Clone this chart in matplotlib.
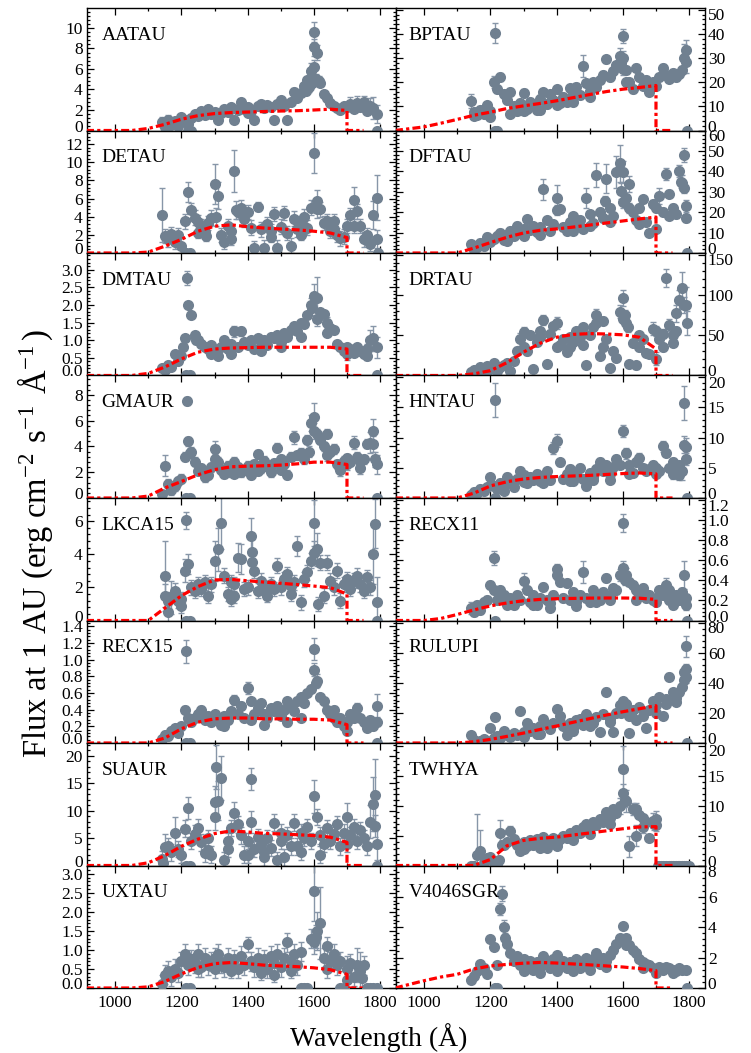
import numpy as np
import matplotlib
matplotlib.use("Agg")
import matplotlib.pyplot as plt
from matplotlib.ticker import FixedLocator, AutoMinorLocator, MultipleLocator, FormatStrFormatter
from matplotlib.transforms import ScaledTranslation

plt.rcParams['font.family'] = ['Liberation Serif', 'DejaVu Serif']
plt.rcParams['mathtext.fontset'] = 'custom'
plt.rcParams['mathtext.rm'] = 'Liberation Serif'
plt.rcParams['mathtext.it'] = 'Liberation Serif:italic'

nan = np.nan

# wavelength bins of the binned FUV spectra (Angstrom)
WAVE = [1140, 1150, 1160, 1170, 1180, 1190, 1200, 1210, 1220, 1230,
        1240, 1250, 1260, 1270, 1280, 1290, 1300, 1310, 1320, 1330,
        1340, 1350, 1360, 1370, 1380, 1390, 1400, 1410, 1420, 1430,
        1440, 1450, 1460, 1470, 1480, 1490, 1500, 1510, 1520, 1530,
        1540, 1550, 1560, 1570, 1580, 1590, 1600, 1610, 1620, 1630,
        1640, 1650, 1660, 1670, 1680, 1690, 1700, 1710, 1720, 1730,
        1740, 1750, 1760, 1770, 1780, 1790, 1800]

# wavelengths where the model continuum is tabulated
MODEL_WAVE = [912, 1000, 1050, 1100, 1150, 1200, 1250, 1300, 1350, 1400,
              1450, 1500, 1550, 1600, 1650, 1700, 1700, 1750]

# ---------------- AA Tau
AATAU_FLUX = [0.8, 0.3, 1.0, 0.5, 0.9, 0.4, 1.3, 1.0, 0.6, 1.2,
              1.6, 1.4, 1.9, 1.5, 2.1, 1.6, 1.8, 1.0, 1.7, 2.1,
              1.8, 2.3, 1.0, 2.0, 2.4, 2.1, 2.3, 1.9, 1.0, 2.4,
              2.6, 2.2, 2.5, 2.3, 1.0, 2.6, 3.0, 2.4, 1.0, 2.8,
              3.8, 3.2, 3.7, 4.3, 4.9, 5.8, 9.6, 7.6, 4.6, 3.6,
              3.2, 2.7, 2.4, 2.2, 2.0, 2.4, 2.3, 2.6, 2.1, 2.7,
              2.3, 2.8, 1.9, 2.4, 2.2, 1.6, nan]
AATAU_ERR = 0.3
AATAU_BIG = {1600: 1.0, 1610: 0.7, 1590: 0.8, 1710: 0.7, 1730: 0.7, 1750: 0.6,
             1770: 0.8, 1780: 1.1, 1790: 0.9, 1140: 0.5, 1160: 0.5}
AATAU_EXTRA = [(1600, 8.1, 0.8), (1600, 6.2, 0.7), (1605, 5.0, 0.5), (1595, 4.6, 0.4),
               (1585, 4.2, 0.4), (1575, 3.9, 0.4), (1615, 4.8, 0.5), (1380, 2.8, 0.3),
               (1400, 1.7, 0.3), (1220, 0, 0), (1230, 0, 0), (1790, 0, 0)]
AATAU_MODEL = [0, 0, 0, 0.2, 0.6, 1.1, 1.45, 1.65, 1.75, 1.8, 1.85, 1.9, 1.93, 2.0, 2.08, 1.95, 0, 0]

# ---------------- DE Tau
DETAU_FLUX = [4.2, 1.9, 1.5, 2.1, 1.2, 2.0, 0.8, 3.5, 6.7, 4.7,
              3.9, 3.4, 2.9, 2.3, 3.3, 3.9, 7.6, 6.3, 2.0, 1.2,
              3.0, 2.4, 9.0, 4.5, 5.0, 3.7, 4.5, 2.8, 0.5, 5.1,
              2.6, 0.6, 3.2, 2.4, 4.3, 0.6, 2.9, 4.4, 2.2, 0.8,
              3.8, 2.6, 3.3, 4.0, 2.8, 5.0, 11.0, 5.7, 4.8, 3.3,
              3.5, 2.4, 2.6, 2.0, 1.6, 1.8, 3.0, 4.2, 5.8, 4.6,
              3.0, 1.5, 2.0, 1.0, 4.2, 6.1, nan]
DETAU_ERR = 0.8
DETAU_BIG = {1140: 3.0, 1220: 1.1, 1300: 2.2, 1310: 1.5, 1360: 2.3, 1600: 2.2, 1610: 1.2,
             1720: 1.5, 1790: 2.5, 1780: 1.5, 1430: 0.5}
DETAU_EXTRA = [(1305, 4.0, 1.0), (1365, 4.7, 1.0), (1610, 4.9, 1.0), (1790, 1.5, 1.0),
               (1250, 2.2, 0.6), (1350, 1.5, 0.6), (1470, 1.8, 0.6), (1560, 2.0, 0.6),
               (1660, 3.5, 0.8), (1720, 3.0, 0.8), (1180, 1.7, 0.6), (1275, 1.9, 0.6),
               (1215, 0, 0), (1225, 0, 0), (1795, 0, 0)]
DETAU_MODEL = [0, 0, 0, 0.1, 0.75, 1.5, 2.4, 2.95, 3.1, 2.9, 2.75, 2.65, 2.55, 2.4, 2.2, 1.7, 0, 0]

# ---------------- DM Tau
DMTAU_FLUX = [0.2, 0.15, 0.3, 0.25, 0.6, 0.4, 0.55, 1.05, 2.0, 1.7,
              1.15, 1.0, 0.9, 0.8, 0.75, 0.85, 0.7, 0.55, 0.8, 1.0,
              0.75, 0.9, 1.25, 0.8, 1.25, 0.95, 0.85, 1.0, 0.75, 1.05,
              0.95, 1.0, 0.85, 1.1, 1.05, 1.15, 0.95, 1.2, 1.1, 1.3,
              1.4, 1.25, 1.5, 1.45, 1.7, 2.0, 2.25, 2.2, 1.8, 1.75,
              1.2, 1.35, 1.3, 0.9, 0.8, 0.7, 0.6, 0.75, 0.65, 0.8,
              0.7, 0.6, 0.75, 1.0, 1.05, 0.8, nan]
DMTAU_ERR = 0.08
DMTAU_BIG = {1600: 0.35, 1610: 0.6, 1590: 0.2, 1360: 0.15, 1380: 0.12, 1770: 0.3,
             1780: 0.35, 1790: 0.3, 1700: 0.15, 1760: 0.15}
DMTAU_EXTRA = [(1218, 2.75, 0.2), (1205, 0.8, 0.1), (1245, 1.0, 0.1), (1290, 0.6, 0.08),
               (1350, 0.6, 0.08), (1440, 0.7, 0.08), (1500, 0.8, 0.08), (1560, 1.1, 0.1),
               (1595, 1.9, 0.2), (1610, 1.6, 0.2), (1640, 1.5, 0.15), (1700, 0.8, 0.1),
               (1760, 0.55, 0.1), (1215, 0, 0), (1225, 0, 0), (1790, 0, 0)]
DMTAU_MODEL = [0, 0, 0, 0.06, 0.24, 0.47, 0.66, 0.75, 0.78, 0.79, 0.8, 0.8, 0.8, 0.8, 0.8, 0.75, 0, 0]

# ---------------- GM Aur
GMAUR_FLUX = [0.3, 2.5, 1.1, 0.6, 0.9, 1.3, 1.5, 3.2, 4.4, 3.6,
              2.8, 2.1, 2.3, 1.6, 1.8, 2.4, 3.8, 2.8, 2.2, 1.9,
              2.5, 2.0, 2.8, 2.4, 2.0, 2.2, 2.5, 1.8, 2.6, 3.4,
              2.3, 2.9, 2.5, 2.0, 2.7, 3.9, 3.0, 2.6, 1.8, 3.2,
              4.7, 3.3, 3.5, 3.0, 4.5, 5.8, 6.3, 5.0, 4.5, 4.0,
              5.0, 3.6, 3.8, 2.6, 2.2, 2.9, 3.1, 2.8, 4.3, 3.2,
              2.9, 3.0, 4.2, 4.3, 5.2, 2.6, nan]
GMAUR_ERR = 0.35
GMAUR_BIG = {1150: 0.8, 1300: 0.6, 1600: 1.1, 1590: 0.6, 1780: 0.9, 1790: 0.7, 1770: 0.8,
             1720: 0.5, 1680: 0.5, 1540: 0.5}
GMAUR_EXTRA = [(1218, 7.5, 0.3), (1225, 3.5, 0.4), (1300, 3.0, 0.4), (1360, 1.9, 0.3),
               (1430, 2.1, 0.3), (1500, 2.2, 0.3), (1600, 5.2, 0.6), (1585, 3.6, 0.4),
               (1640, 3.3, 0.4), (1780, 4.2, 0.6), (1785, 3.0, 0.6), (1700, 2.6, 0.4),
               (1740, 2.3, 0.4), (1215, 0, 0), (1225, 0, 0), (1790, 0, 0)]
GMAUR_MODEL = [0, 0, 0, 0.15, 0.78, 1.28, 1.8, 2.2, 2.42, 2.47, 2.5, 2.55, 2.65, 2.78, 2.78, 2.6, 0, 0]

# ---------------- LkCa 15
LKCA15_FLUX = [nan, 2.7, 0.5, 1.4, 1.8, 1.2, 0.9, 3.0, 3.4, 2.0,
               1.8, 2.2, 1.9, 2.3, 1.5, 2.2, 3.6, 4.3, 5.9, 2.7,
               1.6, 2.3, 1.5, 3.8, 3.7, 1.9, 2.0, 5.1, 3.0, 1.8,
               2.4, 2.0, 1.8, 2.2, 1.9, 3.3, 2.0, 2.5, 2.8, 2.1,
               2.3, 4.5, 1.1, 2.5, 2.9, 3.6, 5.9, 4.3, 3.5, 1.5,
               3.5, 2.4, 2.0, 3.0, 1.2, 2.2, 2.5, 1.9, 2.4, 2.7,
               2.2, 1.8, 2.6, 2.0, 4.0, 1.1, nan]
LKCA15_ERR = 0.45
LKCA15_BIG = {1150: 2.1, 1300: 1.2, 1310: 1.3, 1320: 1.6, 1370: 0.9, 1380: 0.9, 1410: 1.1,
              1550: 0.6, 1600: 1.4, 1610: 1.0, 1780: 1.8, 1790: 1.5, 1160: 0.8, 1170: 1.0,
              1210: 0.7, 1220: 0.6}
LKCA15_EXTRA = [(1215, 6.05, 0.5), (1150, 1.5, 0.7), (1412, 4.15, 0.8), (1414, 3.55, 0.6),
                (1600, 4.1, 0.7), (1785, 5.85, 1.5), (1160, 1.2, 0.5), (1200, 1.3, 0.4),
                (1350, 1.3, 0.4), (1460, 1.5, 0.4), (1530, 1.6, 0.4), (1612, 1.0, 0.4),
                (1360, 2.2, 0.4), (1215, 0, 0), (1225, 0, 0), (1790, 0, 0)]
LKCA15_MODEL = [0, 0, 0, 0, 0.75, 1.5, 2.05, 2.45, 2.48, 2.4, 2.32, 2.25, 2.17, 2.08, 1.98, 1.6, 0, 0]

# ---------------- RECX 15
RECX15_FLUX = [0.05, 0.1, 0.08, 0.15, 0.18, 0.12, 0.2, 0.4, 0.3, 0.25,
               0.3, 0.35, 0.4, 0.28, 0.32, 0.25, 0.35, 0.3, 0.22, 0.33,
               0.28, 0.38, 0.52, 0.35, 0.45, 0.3, 0.66, 0.5, 0.35, 0.42,
               0.48, 0.35, 0.3, 0.42, 0.38, 0.45, 0.33, 0.4, 0.5, 0.45,
               0.38, 0.5, 0.55, 0.48, 0.6, 0.65, 1.13, 0.75, 0.55, 0.5,
               0.4, 0.35, 0.3, 0.25, 0.3, 0.2, 0.25, 0.35, 0.3, 0.42,
               0.3, 0.25, 0.18, 0.28, 0.2, 0.45, nan]
RECX15_ERR = 0.04
RECX15_BIG = {1400: 0.07, 1600: 0.13, 1790: 0.14, 1360: 0.06, 1730: 0.06, 1610: 0.08}
RECX15_EXTRA = [(1215, 1.1, 0.14), (1600, 0.88, 0.08), (1605, 0.72, 0.06), (1410, 0.28, 0.04),
                (1330, 0.2, 0.04), (1450, 0.22, 0.04), (1520, 0.25, 0.04), (1560, 0.3, 0.04),
                (1660, 0.4, 0.04), (1700, 0.15, 0.04), (1790, 0.25, 0.05),
                (1215, 0, 0), (1225, 0, 0), (1790, 0, 0)]
RECX15_MODEL = [0, 0, 0, 0, 0.06, 0.17, 0.25, 0.29, 0.3, 0.3, 0.29, 0.29, 0.285, 0.285, 0.275, 0.22, 0, 0]

# ---------------- SU Aur
SUAUR_FLUX = [1.2, 3.3, 3.5, 2.4, 5.9, 3.0, 2.0, 6.7, 10.5, 4.5,
              5.8, 6.9, 4.2, 2.2, 5.0, 2.0, 8.9, 11.8, 16.0, 1.0,
              3.0, 6.8, 9.5, 7.5, 5.5, 2.0, 4.5, 15.8, 3.0, 5.2,
              4.0, 2.5, 5.0, 3.2, 7.8, 1.0, 4.5, 1.5, 5.5, 3.5,
              7.8, 3.5, 6.0, 5.0, 7.0, 4.5, 12.6, 8.8, 5.5, 4.0,
              6.8, 4.5, 5.8, 7.5, 3.5, 6.0, 8.9, 5.5, 7.0, 4.5,
              6.5, 5.0, 3.5, 8.0, 11.2, 4.0, nan]
SUAUR_ERR = 1.5
SUAUR_BIG = {1150: 2.5, 1180: 3.0, 1220: 2.0, 1300: 2.5, 1310: 3.5, 1320: 4.0, 1360: 2.0,
             1410: 2.0, 1600: 3.0, 1700: 2.5, 1770: 3.0, 1780: 5.0, 1790: 3.0}
SUAUR_EXTRA = [(1305, 18.0, 4.0), (1300, 11.5, 3.0), (1410, 8.0, 2.0), (1785, 12.8, 6.5),
               (1785, 7.2, 2.0), (1145, 0.5, 1.0), (1280, 2.8, 1.5), (1340, 4.5, 1.5),
               (1450, 1.5, 1.5), (1560, 2.5, 1.5), (1620, 2.0, 1.5), (1700, 4.0, 1.5),
               (1400, 2.0, 1.5), (1500, 6.0, 1.5), (1215, 0, 0), (1225, 0, 0), (1790, 0, 0)]
SUAUR_MODEL = [0, 0, 0, 0.5, 1.8, 3.5, 4.8, 5.8, 6.3, 6.1, 5.85, 5.75, 5.6, 5.45, 5.15, 4.2, 0, 0]

# ---------------- UX Tau
UXTAU_FLUX = [0.1, 0.35, 0.45, 0.3, 0.5, 0.4, 0.7, 0.9, 0.6, 0.75,
              0.65, 0.9, 0.55, 0.8, 0.6, 0.7, 0.5, 0.9, 0.65, 0.55,
              0.8, 0.6, 0.75, 0.5, 0.85, 0.6, 1.15, 0.7, 0.55, 0.8,
              0.6, 0.75, 0.5, 0.85, 0.65, 0.9, 0.55, 0.8, 1.2, 0.7,
              0.9, 0.6, 0.95, 0.0, 0.0, 1.3, 2.55, 1.5, 1.7, 0.8,
              1.1, 0.7, 0.9, 0.6, 0.7, 0.0, 0.5, 0.65, 0.3, 0.6,
              0.45, 0.6, 0.0, 0.0, 0.0, 0.0, nan]
UXTAU_ERR = 0.25
UXTAU_BIG = {1600: 0.8, 1620: 0.95, 1610: 0.5, 1400: 0.2, 1700: 0.35, 1730: 0.45, 1740: 0.5}
UXTAU_EXTRA = [(1600, 1.2, 0.3), (1605, 1.35, 0.3), (1250, 0.5, 0.2), (1300, 0.8, 0.25),
               (1350, 0.45, 0.2), (1440, 0.4, 0.2), (1480, 0.35, 0.2), (1530, 0.45, 0.2),
               (1640, 0.5, 0.25), (1700, 0.2, 0.3), (1745, 0.25, 0.3),
               (1215, 0, 0), (1225, 0, 0), (1680, 0, 0), (1560, 0, 0)]
UXTAU_MODEL = [0, 0, 0, 0.03, 0.17, 0.37, 0.54, 0.64, 0.67, 0.64, 0.6, 0.58, 0.56, 0.53, 0.48, 0.36, 0, 0]

# ---------------- BP Tau
BPTAU_FLUX = [12.3, 7.5, 6.5, 8.5, 7.0, 10.5, 8.0, 20.1, 17.1, 22.1,
              15.0, 12.5, 16.0, 10.0, 8.0, 11.5, 15.7, 9.0, 12.0, 10.5,
              8.5, 13.0, 15.8, 11.0, 15.0, 12.5, 17.0, 11.5, 14.0, 12.0,
              17.5, 15.0, 18.0, 14.5, 26.6, 19.5, 16.5, 20.0, 18.0, 21.0,
              23.0, 29.4, 22.0, 24.5, 27.0, 30.7, 39.2, 25.0, 20.0, 17.0,
              26.0, 22.0, 18.5, 21.0, 16.0, 20.0, 18.5, 22.0, 25.7, 23.0,
              21.5, 24.0, 22.0, 23.5, 25.0, 33.5, nan]
BPTAU_ERR = 1.5
BPTAU_BIG = {1140: 3.0, 1480: 4.5, 1600: 3.0, 1590: 3.5, 1790: 4.0, 1720: 2.0, 1210: 2.5}
BPTAU_EXTRA = [(1215, 40.3, 4.0), (1785, 30.0, 6.0), (1790, 28.5, 4.5), (1150, 6.0, 1.0),
               (1200, 5.5, 1.0), (1260, 7.0, 1.0), (1300, 8.0, 1.0), (1350, 8.5, 1.0),
               (1400, 10.5, 1.0), (1450, 12.0, 1.0), (1500, 14.0, 1.2), (1600, 30.0, 3.0),
               (1600, 25.5, 2.5), (1595, 28.0, 2.5), (1610, 20.0, 1.5),
               (1215, 0, 0), (1220, 0, 0), (1795, 0, 0)]
BPTAU_MODEL = [0, 1.5, 3.0, 4.6, 6.3, 7.6, 9.1, 10.2, 11.2, 12.3, 13.6, 14.9, 16.1, 17.1, 17.8, 18.6, 0, 0]

# ---------------- DF Tau
DFTAU_FLUX = [4.2, 1.5, 3.0, 5.0, 3.5, 7.8, 5.5, 7.0, 8.5, 10.0,
              6.5, 9.0, 11.0, 8.5, 13.2, 10.0, 12.0, 16.5, 11.5, 13.0,
              10.5, 12.5, 31.2, 16.0, 11.0, 14.0, 27.1, 21.4, 12.5, 11.0,
              15.0, 18.0, 13.5, 16.0, 12.0, 26.8, 19.0, 14.5, 38.2, 20.0,
              17.0, 36.4, 22.0, 18.0, 39.7, 43.9, 39.9, 27.0, 33.7, 20.0,
              16.0, 22.0, 26.3, 15.0, 10.0, 24.0, 22.0, 28.0, 20.0, 38.6,
              29.0, 22.0, 19.0, 40.2, 34.5, 23.0, nan]
DFTAU_ERR = 1.8
DFTAU_BIG = {1360: 5.0, 1400: 6.0, 1490: 5.0, 1520: 6.0, 1550: 7.0, 1580: 8.0, 1590: 9.0,
             1600: 5.0, 1620: 4.0, 1730: 3.0, 1770: 3.0, 1780: 3.5, 1790: 3.0, 1710: 4.0}
DFTAU_EXTRA = [(1785, 47.9, 3.5), (1790, 17.3, 2.0), (1775, 35.0, 3.0), (1785, 32.0, 2.5),
               (1595, 30.4, 4.0), (1600, 25.0, 3.0), (1545, 25.5, 2.5), (1400, 21.0, 2.5),
               (1620, 22.0, 2.5), (1250, 6.0, 1.5), (1300, 8.5, 1.5), (1350, 9.0, 1.5),
               (1450, 11.0, 1.5), (1500, 13.0, 1.5), (1560, 15.0, 1.5), (1650, 14.0, 1.5),
               (1700, 12.0, 1.5), (1740, 18.0, 1.5), (1795, 0, 0)]
DFTAU_MODEL = [0, 0, 0, 0, 2.4, 5.1, 7.7, 9.8, 11.1, 11.8, 12.7, 13.7, 14.7, 15.7, 16.7, 17.6, 0, 0]

# ---------------- DR Tau
DRTAU_FLUX = [4.0, 7.0, 3.0, 10.0, 6.0, 12.0, 8.0, 15.4, 5.0, 10.0,
              13.0, 15.0, 5.0, 18.0, 31.0, 45.0, 54.0, 30.0, 50.0, 8.3,
              42.0, 48.0, 69.0, 13.8, 52.0, 61.0, 65.0, 38.0, 45.0, 29.0,
              35.0, 42.0, 55.0, 48.0, 38.0, 13.3, 50.0, 60.0, 75.0, 24.0,
              68.0, 45.0, 9.6, 30.0, 22.0, 79.0, 96.0, 65.0, 14.6, 40.0,
              12.5, 35.0, 45.0, 28.0, 27.0, 58.0, 21.0, 45.0, 52.0, 121.0,
              62.5, 40.0, 77.0, 94.0, 108.0, 87.5, nan]
DRTAU_ERR = 4.0
DRTAU_BIG = {1290: 8.0, 1300: 6.0, 1360: 6.0, 1400: 7.0, 1520: 7.0, 1590: 8.0, 1600: 10.0,
             1690: 8.0, 1700: 8.0, 1730: 11.0, 1740: 7.0, 1760: 10.0, 1770: 12.0,
             1780: 20.0, 1790: 22.0, 1720: 6.0}
DRTAU_EXTRA = [(1605, 75.0, 6.0), (1615, 60.0, 6.0), (1700, 55.0, 6.0), (1785, 88.0, 10.0),
               (1795, 65.4, 15.0), (1300, 35.0, 4.0), (1350, 55.0, 4.0), (1400, 35.0, 4.0),
               (1440, 48.0, 4.0), (1480, 60.0, 4.0), (1520, 65.0, 4.0), (1540, 35.0, 4.0),
               (1600, 70.0, 5.0), (1650, 50.0, 4.0), (1720, 35.0, 4.0), (1750, 50.0, 5.0),
               (1760, 55.0, 5.0)]
DRTAU_MODEL = [0, 0, 0, 0, 2, 6, 16, 29, 40, 47.5, 51, 52, 51.5, 50.5, 47.5, 33, 0, 0]

# ---------------- HN Tau
HNTAU_FLUX = [0.5, 1.0, 0.8, 1.5, 1.2, 1.8, 3.4, 2.0, 1.5, 2.5,
              2.0, 3.5, 2.8, 1.8, 3.2, 4.5, 3.8, 2.5, 3.5, 3.0,
              4.0, 2.8, 3.6, 4.4, 3.0, 8.3, 9.5, 5.9, 3.2, 4.0,
              4.8, 2.8, 3.8, 5.0, 3.2, 2.0, 4.2, 3.5, 4.8, 6.0,
              4.5, 5.5, 4.0, 5.2, 6.5, 5.5, 11.1, 7.4, 5.5, 4.2,
              6.0, 6.6, 5.0, 4.5, 4.8, 5.5, 5.0, 4.5, 8.6, 7.5,
              5.0, 6.0, 4.5, 5.5, 4.5, 8.4, nan]
HNTAU_ERR = 0.6
HNTAU_BIG = {1390: 1.0, 1400: 1.1, 1600: 1.0, 1610: 0.9, 1720: 0.9, 1780: 1.5, 1790: 1.5, 1650: 0.8}
HNTAU_EXTRA = [(1215, 16.3, 2.8), (1785, 15.8, 2.8), (1785, 8.8, 1.4), (1790, 6.5, 1.0),
               (1240, 1.2, 0.5), (1300, 2.6, 0.5), (1360, 2.5, 0.5), (1440, 2.8, 0.5),
               (1510, 3.0, 0.5), (1560, 3.0, 0.5), (1620, 4.0, 0.6), (1700, 4.0, 0.6),
               (1750, 4.0, 0.8), (1770, 3.8, 0.8), (1215, 0, 0), (1795, 0, 0)]
HNTAU_MODEL = [0, 0, 0, 0, 0.8, 2.0, 2.7, 3.15, 3.4, 3.55, 3.65, 3.75, 3.9, 4.05, 4.15, 4.0, 0, 0]

# ---------------- RECX 11
RECX11_FLUX = [0.12, 0.08, 0.15, 0.1, 0.18, 0.2, 0.35, 0.3, 0.2, 0.3,
               0.25, 0.18, 0.22, 0.15, 0.25, 0.2, 0.39, 0.3, 0.18, 0.25,
               0.15, 0.22, 0.33, 0.2, 0.17, 0.25, 0.51, 0.38, 0.22, 0.37,
               0.2, 0.28, 0.18, 0.25, 0.48, 0.22, 0.18, 0.3, 0.25, 0.2,
               0.28, 0.42, 0.25, 0.32, 0.3, 0.45, 0.97, 0.45, 0.38, 0.35,
               0.3, 0.25, 0.32, 0.22, 0.25, 0.2, 0.22, 0.3, 0.25, 0.35,
               0.3, 0.15, 0.25, 0.2, 0.28, 0.22, nan]
RECX11_ERR = 0.04
RECX11_BIG = {1300: 0.08, 1400: 0.05, 1480: 0.11, 1590: 0.06, 1600: 0.09, 1610: 0.07,
              1730: 0.07, 1140: 0.06}
RECX11_EXTRA = [(1210, 0.62, 0.07), (1400, 0.45, 0.05), (1600, 0.52, 0.07), (1605, 0.4, 0.05),
                (1785, 0.45, 0.14), (1790, 0.15, 0.05), (1250, 0.15, 0.03), (1330, 0.15, 0.03),
                (1380, 0.12, 0.03), (1460, 0.14, 0.03), (1520, 0.18, 0.03), (1560, 0.2, 0.03),
                (1640, 0.2, 0.03), (1700, 0.18, 0.03), (1740, 0.2, 0.04),
                (1215, 0, 0), (1795, 0, 0)]
RECX11_MODEL = [0, 0, 0.02, 0.06, 0.105, 0.145, 0.175, 0.197, 0.21, 0.217, 0.22, 0.223,
                0.224, 0.224, 0.222, 0.21, 0, 0]

# ---------------- RU Lupi
RULUPI_FLUX = [5.3, 2.0, 0.5, 1.5, 2.5, 1.0, 10.0, 3.0, 4.5, 3.0,
               8.0, 5.5, 4.0, 6.5, 5.0, 21.1, 7.0, 13.0, 8.0, 10.0,
               6.0, 11.0, 16.0, 12.0, 9.0, 13.0, 22.7, 18.0, 11.0, 5.0,
               13.0, 10.0, 15.0, 16.0, 12.0, 19.0, 15.0, 13.0, 17.0, 7.0,
               19.0, 34.2, 16.0, 7.0, 20.0, 25.0, 27.8, 26.0, 6.7, 22.0,
               15.0, 24.0, 18.0, 10.0, 22.0, 28.2, 25.0, 30.4, 18.0, 29.0,
               44.2, 34.0, 30.0, 34.0, 37.0, 49.3, nan]
RULUPI_ERR = 1.5
RULUPI_BIG = {1550: 2.5, 1790: 3.0, 1740: 2.5, 1600: 2.0}
RULUPI_EXTRA = [(1214, 17.1, 1.5), (1785, 42.0, 3.0), (1790, 44.0, 4.0), (1790, 64.4, 7.0),
                (1785, 47.0, 3.0), (1595, 20.0, 1.5), (1410, 14.0, 1.5), (1300, 4.0, 1.0),
                (1350, 6.0, 1.0), (1450, 8.0, 1.0), (1500, 11.0, 1.2), (1560, 14.0, 1.5),
                (1620, 18.0, 1.5), (1700, 20.0, 1.5), (1730, 26.0, 2.0), (1760, 27.0, 2.0),
                (1215, 0, 0), (1795, 0, 0)]
RULUPI_MODEL = [0, 0, 0, 0, 0.8, 2.4, 4.4, 6.6, 9.0, 11.3, 13.8, 16.2, 18.6, 20.8, 22.8, 24.8, 0, 0]

# ---------------- TW Hya
TWHYA_FLUX = [0.0, 0.0, 1.8, 2.4, 0.5, 1.2, 1.5, 0.8, 0.0, 5.4,
              3.5, 4.0, 5.8, 4.5, 3.5, 2.5, 4.0, 3.2, 4.2, 3.5,
              4.5, 3.8, 4.8, 3.0, 4.2, 4.6, 3.8, 4.5, 5.0, 4.6,
              5.5, 5.0, 6.0, 5.5, 6.5, 7.0, 6.2, 7.2, 6.8, 7.8,
              7.2, 9.0, 8.0, 9.5, 8.8, 10.0, 16.2, 10.8, 3.2, 9.5,
              5.0, 8.5, 8.0, 7.2, 4.6, 7.5, 7.7, 0.0, 0.0, 0.0,
              0.0, 0.0, 0.0, 0.0, 0.0, 0.0, 0.0]
TWHYA_ERR = 0.5
TWHYA_BIG = {1160: 6.8, 1170: 3.5, 1180: 1.0, 1230: 2.2, 1260: 0.8, 1600: 3.8, 1610: 1.8,
             1620: 1.8, 1640: 1.8, 1630: 1.0, 1700: 1.5, 1690: 1.3, 1590: 1.3, 1560: 1.0}
TWHYA_EXTRA = [(1600, 12.2, 1.5), (1605, 11.0, 1.2), (1695, 7.0, 1.0), (1225, 1.0, 0.5),
               (1235, 3.5, 0.8), (1300, 2.8, 0.5), (1350, 3.0, 0.5), (1400, 3.2, 0.5),
               (1450, 4.2, 0.5), (1500, 5.2, 0.6), (1560, 7.0, 0.7), (1640, 9.5, 1.0),
               (1660, 6.5, 1.0), (1700, 6.8, 1.0), (1215, 0, 0), (1705, 0, 0), (1715, 0, 0),
               (1745, 0, 0), (1765, 0, 0), (1785, 0, 0)]
TWHYA_MODEL = [0, 0, 0, 0, 0, 1.0, 3.3, 4.2, 4.55, 4.75, 5.1, 5.45, 5.8, 6.15, 6.45, 6.5, 0, 0]

# ---------------- V4046 Sgr
V4046SGR_FLUX = [0.5, 0.8, 1.1, 1.6, 1.3, 0.9, 3.2, 2.7, 1.5, 5.2,
                 4.0, 2.9, 2.3, 1.8, 2.1, 1.5, 1.9, 1.3, 1.8, 1.2,
                 1.7, 1.4, 2.1, 1.6, 1.3, 1.9, 2.2, 1.5, 1.8, 1.3,
                 1.7, 1.5, 1.9, 1.3, 1.8, 2.0, 1.5, 1.9, 2.3, 1.6,
                 2.0, 1.8, 2.2, 2.5, 2.9, 3.3, 4.1, 3.3, 2.8, 2.5,
                 2.3, 1.9, 1.7, 1.6, 1.5, 1.3, 1.2, 1.4, 1.2, 1.4,
                 1.3, 1.2, 1.1, 1.3, 1.2, 1.2, nan]
V4046SGR_ERR = 0.1
V4046SGR_BIG = {1230: 0.4, 1240: 0.5, 1600: 0.15}
V4046SGR_EXTRA = [(1235, 6.2, 0.5), (1245, 3.3, 0.3), (1610, 2.8, 0.12), (1300, 1.1, 0.1),
                  (1350, 1.0, 0.1), (1400, 1.1, 0.1), (1450, 1.1, 0.1), (1500, 1.2, 0.1),
                  (1550, 1.4, 0.1), (1660, 1.3, 0.1), (1700, 1.0, 0.1), (1750, 1.0, 0.1),
                  (1215, 0, 0), (1220, 0, 0), (1795, 0, 0)]
V4046SGR_MODEL = [0, 0.48, 0.72, 0.9, 1.25, 1.45, 1.55, 1.63, 1.68, 1.64, 1.58, 1.52,
                  1.45, 1.38, 1.28, 1.14, 0, 0]

# panel order: left column then right column, row by row
PANELS = [
    ("AATAU", AATAU_FLUX, AATAU_ERR, AATAU_BIG, AATAU_EXTRA, AATAU_MODEL, 11.95, 2),
    ("BPTAU", BPTAU_FLUX, BPTAU_ERR, BPTAU_BIG, BPTAU_EXTRA, BPTAU_MODEL, 50.7, 10),
    ("DETAU", DETAU_FLUX, DETAU_ERR, DETAU_BIG, DETAU_EXTRA, DETAU_MODEL, 13.5, 2),
    ("DFTAU", DFTAU_FLUX, DFTAU_ERR, DFTAU_BIG, DFTAU_EXTRA, DFTAU_MODEL, 60.0, 10),
    ("DMTAU", DMTAU_FLUX, DMTAU_ERR, DMTAU_BIG, DMTAU_EXTRA, DMTAU_MODEL, 3.47, 0.5),
    ("DRTAU", DRTAU_FLUX, DRTAU_ERR, DRTAU_BIG, DRTAU_EXTRA, DRTAU_MODEL, 152.0, 50),
    ("GMAUR", GMAUR_FLUX, GMAUR_ERR, GMAUR_BIG, GMAUR_EXTRA, GMAUR_MODEL, 9.5, 2),
    ("HNTAU", HNTAU_FLUX, HNTAU_ERR, HNTAU_BIG, HNTAU_EXTRA, HNTAU_MODEL, 20.3, 5),
    ("LKCA15", LKCA15_FLUX, LKCA15_ERR, LKCA15_BIG, LKCA15_EXTRA, LKCA15_MODEL, 7.4, 2),
    ("RECX11", RECX11_FLUX, RECX11_ERR, RECX11_BIG, RECX11_EXTRA, RECX11_MODEL, 1.22, 0.2),
    ("RECX15", RECX15_FLUX, RECX15_ERR, RECX15_BIG, RECX15_EXTRA, RECX15_MODEL, 1.47, 0.2),
    ("RULUPI", RULUPI_FLUX, RULUPI_ERR, RULUPI_BIG, RULUPI_EXTRA, RULUPI_MODEL, 81.5, 20),
    ("SUAUR", SUAUR_FLUX, SUAUR_ERR, SUAUR_BIG, SUAUR_EXTRA, SUAUR_MODEL, 22.3, 5),
    ("TWHYA", TWHYA_FLUX, TWHYA_ERR, TWHYA_BIG, TWHYA_EXTRA, TWHYA_MODEL, 20.5, 5),
    ("UXTAU", UXTAU_FLUX, UXTAU_ERR, UXTAU_BIG, UXTAU_EXTRA, UXTAU_MODEL, 3.22, 0.5),
    ("V4046SGR", V4046SGR_FLUX, V4046SGR_ERR, V4046SGR_BIG, V4046SGR_EXTRA, V4046SGR_MODEL, 8.05, 2),
]

POINT_COLOR = '#708090'
ERR_COLOR = '#8796a8'
MODEL_COLOR = '#ff0000'

fig, axes = plt.subplots(8, 2, figsize=(7.51, 10.53), dpi=100)
fig.subplots_adjust(left=87 / 751, right=705 / 751, top=1 - 8 / 1053,
                    bottom=1 - 988 / 1053, wspace=0, hspace=0)

for i, (name, flux, err, big, extra, model, ytop, step) in enumerate(PANELS):
    row, col = divmod(i, 2)
    ax = axes[row, col]

    w = np.array(WAVE, float)
    f = np.array(flux, float)
    e = np.full_like(f, err)
    for lam, val in big.items():
        e[w == lam] = val
    ex = np.array(extra, float)
    w = np.concatenate([w, ex[:, 0]])
    f = np.concatenate([f, ex[:, 1]])
    e = np.concatenate([e, ex[:, 2]])
    e[f == 0] = 0
    ok = ~np.isnan(f)

    ax.errorbar(w[ok], f[ok], yerr=e[ok], fmt='none', ecolor=ERR_COLOR,
                elinewidth=1.0, capsize=2.5, capthick=1.0, zorder=2)
    ax.plot(w[ok], f[ok], 'o', ms=8, color=POINT_COLOR, mew=0, zorder=3)
    ax.plot(MODEL_WAVE, model, color=MODEL_COLOR, lw=2.3,
            ls=(0, (2.5, 1.0, 1.0, 1.0)), zorder=4)

    ax.set_xlim(915, 1848)
    ax.set_ylim(0, ytop)
    ax.xaxis.set_major_locator(MultipleLocator(200))
    ax.xaxis.set_minor_locator(MultipleLocator(100))
    nt = int(ytop / step + 1e-6)
    ax.yaxis.set_major_locator(FixedLocator([k * step for k in range(nt + 1)]))
    ax.yaxis.set_minor_locator(AutoMinorLocator(5))
    ax.yaxis.set_major_formatter(FormatStrFormatter('%.1f' if step < 1 else '%d'))

    ax.tick_params(which='both', direction='in', top=True, right=True,
                   labelsize=12.5, width=0.9, pad=3)
    ax.tick_params(which='major', length=5)
    ax.tick_params(which='minor', length=2.5)
    ax.tick_params(axis='x', labelbottom=(row == 7), pad=5)
    if col == 1:
        ax.tick_params(axis='y', labelleft=False, labelright=True, pad=2)
    for sp in ax.spines.values():
        sp.set_linewidth(1.0)

    ax.text(0.047 if col == 0 else 0.04, 0.739, name, transform=ax.transAxes,
            fontsize=14, va='baseline', ha='left')

fig.text(0.047, 0.484,
         r"Flux at 1 AU (erg cm$^{-2}$$\;\,$s$^{-1}$$\;\,$Å$^{-1}$$\,$)",
         rotation=90, ha='center', va='center', fontsize=23.5)
fig.text(379 / 751, 1 - 1046 / 1053, "Wavelength (Å)", ha='center', va='baseline',
         fontsize=20)

# nudge the tick labels that sit on a panel boundary so neighbours overlap less
fig.canvas.draw()
for ax in axes.flat:
    lo, hi = ax.get_ylim()
    for tick, loc in zip(ax.yaxis.get_major_ticks(), ax.yaxis.get_majorticklocs()):
        if loc == 0:
            dy = 0.05
        elif (hi - loc) / hi < 0.03:
            dy = -0.045
        else:
            continue
        off = ScaledTranslation(0, dy, fig.dpi_scale_trans)
        for lab in (tick.label1, tick.label2):
            lab.set_transform(lab.get_transform() + off)

fig.savefig("out.png", dpi=100)
